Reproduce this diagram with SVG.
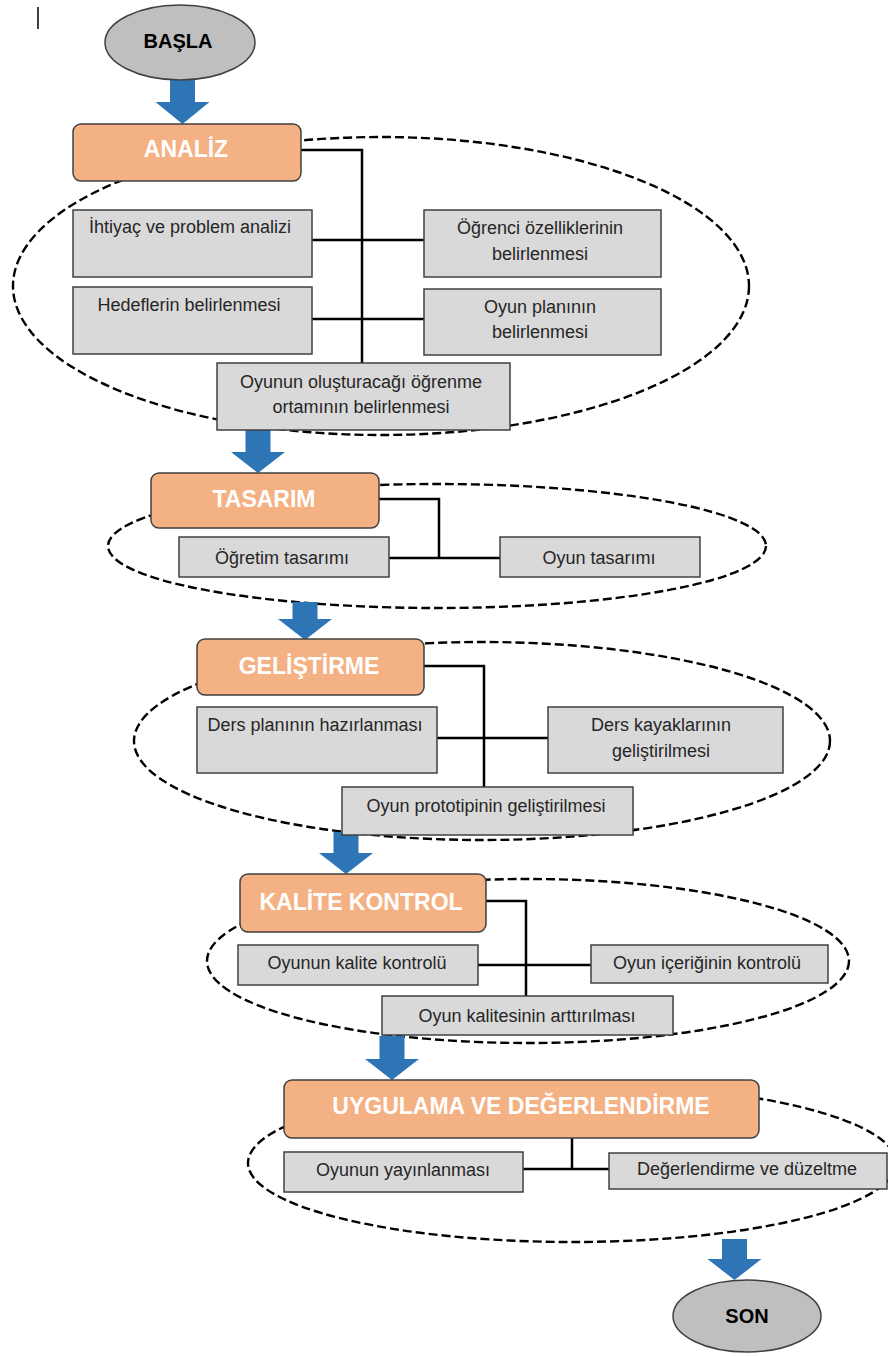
<svg xmlns="http://www.w3.org/2000/svg" width="888" height="1356" viewBox="0 0 888 1356">
  <style>
    .phase { fill: none; stroke: #000; stroke-width: 2.4; stroke-dasharray: 9 4; }
    .link { fill: none; stroke: #000; stroke-width: 2.5; }
    .flow { fill: #2E75B6; stroke: none; }
    .terminal { fill: #BFBFBF; stroke: #404040; stroke-width: 1.5; }
    .stage { fill: #F4B183; stroke: #404040; stroke-width: 1.5; }
    .task { fill: #D9D9D9; stroke: #404040; stroke-width: 1.5; }
    text { font-family: "Liberation Sans", Arial, sans-serif; text-anchor: middle; }
    .tt { font-size: 20px; font-weight: bold; fill: #000; }
    .st { font-size: 23px; font-weight: bold; fill: #fff; }
    .kt { font-size: 18px; fill: #262626; }
  </style>

  <!-- stray caret mark -->
  <line x1="38" y1="7" x2="38" y2="29" stroke="#000" stroke-width="1.5"/>

  <!-- dashed outlines grouping each phase -->
  <g id="phase-outlines">
    <ellipse class="phase" cx="381" cy="286" rx="368" ry="149"/>
    <ellipse class="phase" cx="437" cy="546" rx="329" ry="62"/>
    <ellipse class="phase" cx="482" cy="741" rx="348" ry="99"/>
    <ellipse class="phase" cx="528" cy="961" rx="321" ry="82"/>
    <ellipse class="phase" cx="572" cy="1163" rx="324" ry="79"/>
  </g>

  <g id="connectors">
    <!-- analiz -->
    <polyline class="link" points="301,150 362,150 362,363"/>
    <line class="link" x1="312" y1="240" x2="424" y2="240"/>
    <line class="link" x1="312" y1="319" x2="424" y2="319"/>
    <!-- tasarım -->
    <polyline class="link" points="379,499 439,499 439,558"/>
    <line class="link" x1="389" y1="558" x2="500" y2="558"/>
    <!-- geliştirme -->
    <polyline class="link" points="424,666 484,666 484,787"/>
    <line class="link" x1="437" y1="738" x2="548" y2="738"/>
    <!-- kalite kontrol -->
    <polyline class="link" points="486,901 526,901 526,996"/>
    <line class="link" x1="478" y1="965" x2="591" y2="965"/>
    <!-- uygulama -->
    <line class="link" x1="572" y1="1138" x2="572" y2="1169"/>
    <line class="link" x1="523" y1="1169" x2="609" y2="1169"/>
    <!-- block arrows between phases -->
    <path class="flow" d="M170,78 H195 V102 H209.5 L182.5,124 L155.5,102 H170 Z"/>
    <path class="flow" d="M245.5,428 H270.5 V452 H285 L258,473 L231,452 H245.5 Z"/>
    <path class="flow" d="M292.5,602 H317.5 V619 H332 L305,640 L278,619 H292.5 Z"/>
    <path class="flow" d="M333.5,832 H358.5 V853 H373 L346,874 L319,853 H333.5 Z"/>
    <path class="flow" d="M379.5,1036 H404.5 V1059 H419 L392,1080 L365,1059 H379.5 Z"/>
    <path class="flow" d="M722,1239 H747 V1259 H761.5 L734.5,1280 L707.5,1259 H722 Z"/>
  </g>

  <g id="basla">
    <ellipse class="terminal" cx="180" cy="42.5" rx="75" ry="37.5"/>
    <text class="tt" x="178" y="48">BAŞLA</text>
  </g>

  <g id="analiz">
    <rect class="stage" x="73" y="124" width="228" height="57" rx="8"/>
    <text class="st" x="186" y="157">ANALİZ</text>
  </g>
  <g id="ihtiyac">
    <rect class="task" x="73" y="210" width="239" height="67"/>
    <text class="kt" x="190" y="233">İhtiyaç ve problem analizi</text>
  </g>
  <g id="ogrenci">
    <rect class="task" x="424" y="210" width="237" height="67"/>
    <text class="kt" x="540" y="234">Öğrenci özelliklerinin</text>
    <text class="kt" x="540" y="260">belirlenmesi</text>
  </g>
  <g id="hedefler">
    <rect class="task" x="73" y="287" width="239" height="67"/>
    <text class="kt" x="189" y="311">Hedeflerin belirlenmesi</text>
  </g>
  <g id="oyun-plani">
    <rect class="task" x="424" y="289" width="237" height="66"/>
    <text class="kt" x="540" y="313">Oyun planının</text>
    <text class="kt" x="540" y="338">belirlenmesi</text>
  </g>
  <g id="ogrenme-ortami">
    <rect class="task" x="217" y="363" width="293" height="67"/>
    <text class="kt" x="361" y="388">Oyunun oluşturacağı öğrenme</text>
    <text class="kt" x="361" y="413">ortamının belirlenmesi</text>
  </g>

  <g id="tasarim">
    <rect class="stage" x="151" y="473" width="228" height="55" rx="8"/>
    <text class="st" x="264" y="507">TASARIM</text>
  </g>
  <g id="ogretim-tasarimi">
    <rect class="task" x="179" y="537" width="210" height="40"/>
    <text class="kt" x="282" y="564">Öğretim tasarımı</text>
  </g>
  <g id="oyun-tasarimi">
    <rect class="task" x="500" y="537" width="200" height="40"/>
    <text class="kt" x="599" y="564">Oyun tasarımı</text>
  </g>

  <g id="gelistirme">
    <rect class="stage" x="197" y="639" width="227" height="56" rx="8"/>
    <text class="st" x="309" y="674">GELİŞTİRME</text>
  </g>
  <g id="ders-plani">
    <rect class="task" x="197" y="707" width="240" height="66"/>
    <text class="kt" x="315" y="731">Ders planının hazırlanması</text>
  </g>
  <g id="ders-kaynaklari">
    <rect class="task" x="548" y="707" width="235" height="66"/>
    <text class="kt" x="661" y="731">Ders kayaklarının</text>
    <text class="kt" x="661" y="757">geliştirilmesi</text>
  </g>
  <g id="prototip">
    <rect class="task" x="342" y="787" width="291" height="48"/>
    <text class="kt" x="486" y="812">Oyun prototipinin geliştirilmesi</text>
  </g>

  <g id="kalite-kontrol">
    <rect class="stage" x="240" y="874" width="246" height="58" rx="8"/>
    <text class="st" x="361" y="910">KALİTE KONTROL</text>
  </g>
  <g id="oyun-kalite">
    <rect class="task" x="238" y="945" width="240" height="40"/>
    <text class="kt" x="357" y="969">Oyunun kalite kontrolü</text>
  </g>
  <g id="icerik-kontrol">
    <rect class="task" x="591" y="945" width="237" height="38"/>
    <text class="kt" x="707" y="969">Oyun içeriğinin kontrolü</text>
  </g>
  <g id="kalite-artirma">
    <rect class="task" x="382" y="996" width="291" height="39"/>
    <text class="kt" x="527" y="1022">Oyun kalitesinin arttırılması</text>
  </g>

  <g id="uygulama">
    <rect class="stage" x="284" y="1080" width="475" height="58" rx="8"/>
    <text class="st" x="521" y="1114">UYGULAMA VE DEĞERLENDİRME</text>
  </g>
  <g id="yayin">
    <rect class="task" x="284" y="1152" width="239" height="40"/>
    <text class="kt" x="403" y="1176">Oyunun yayınlanması</text>
  </g>
  <g id="duzeltme">
    <rect class="task" x="609" y="1153" width="278" height="36"/>
    <text class="kt" x="747" y="1175">Değerlendirme ve düzeltme</text>
  </g>

  <g id="son">
    <ellipse class="terminal" cx="747" cy="1316" rx="74" ry="36"/>
    <text class="tt" x="747" y="1323">SON</text>
  </g>
</svg>
